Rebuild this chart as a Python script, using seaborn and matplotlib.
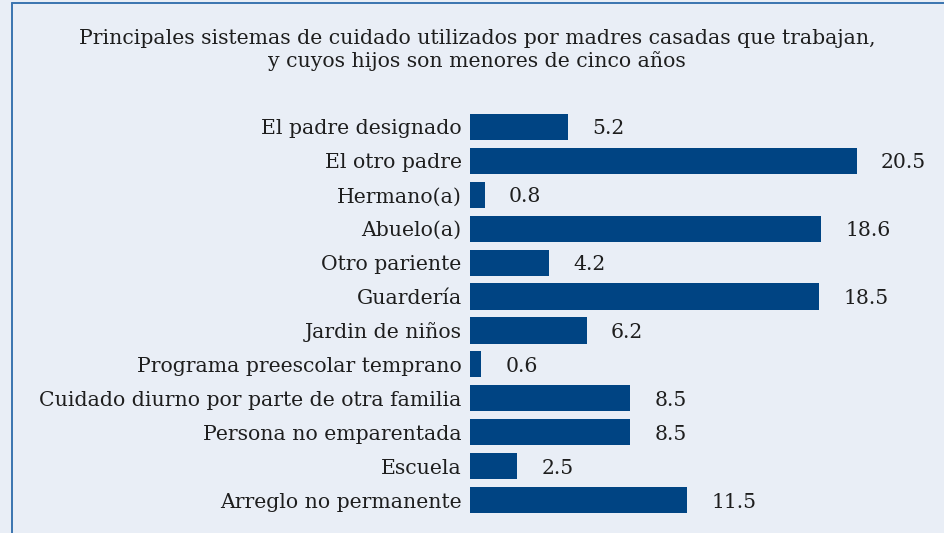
import matplotlib
matplotlib.use("Agg")
import matplotlib.pyplot as plt
from matplotlib.lines import Line2D
import seaborn as sns
import pandas as pd

categorias = ["El padre designado", "El otro padre", "Hermano(a)", "Abuelo(a)",
              "Otro pariente", "Guardería", "Jardin de niños",
              "Programa preescolar temprano", "Cuidado diurno por parte de otra familia",
              "Persona no emparentada", "Escuela", "Arreglo no permanente"]
valores = [5.2, 20.5, 0.8, 18.6, 4.2, 18.5, 6.2, 0.6, 8.5, 8.5, 2.5, 11.5]
etiquetas = ["5.2", "20.5", "0.8", "18.6", "4.2", "18.5", "6.2", "0.6", "8.5", "8.5", "2.5", "11.5"]
titulo = ("Principales sistemas de cuidado utilizados por madres casadas que trabajan,\n"
          "y cuyos hijos son menores de cinco años")

sns.set_theme(style="white")
plt.rcParams['font.family'] = ['DejaVu Serif']

FS = 14.7
BG = "#e9eef6"
BAR = "#004483"
TXT = "#1e1e1e"
W, H = 944, 533
fig = plt.figure(figsize=(W / 100, H / 100), dpi=100)
fig.patch.set_facecolor(BG)

ax = fig.add_axes([470 / W, 1 - 517 / H, (940 - 470) / W, (517 - 110) / H])
ax.set_facecolor(BG)
df = pd.DataFrame({"cat": categorias, "val": valores})
sns.barplot(data=df, x="val", y="cat", orient="h", color=BAR, saturation=1,
            width=0.77, linewidth=0, ax=ax)
ax.set_xlim(0, (940 - 470) / 18.88)
ax.set_ylim(11.5, -0.5)
for s in ax.spines.values():
    s.set_visible(False)
ax.set_xticks([])
ax.set_xlabel("")
ax.set_ylabel("")
ax.tick_params(axis="y", length=0, pad=6, labelsize=FS, labelcolor=TXT)
for i, (v, t) in enumerate(zip(valores, etiquetas)):
    ax.text(v + 24 / 18.88, i + 0.06, t, va="center", ha="left", fontsize=FS, color=TXT)

fig.text(477 / W, 1 - 50 / H, titulo, ha="center", va="center", fontsize=FS,
         color=TXT, linespacing=1.2)

line_c = "#3a74b0"
fig.add_artist(Line2D([11.5 / W, 11.5 / W], [0, 1 - 3 / H], transform=fig.transFigure,
                      color=line_c, lw=1.4))
fig.add_artist(Line2D([11.5 / W, 1], [1 - 3 / H, 1 - 3 / H], transform=fig.transFigure,
                      color=line_c, lw=1.4))

fig.savefig("out.png", dpi=100, facecolor=BG)
